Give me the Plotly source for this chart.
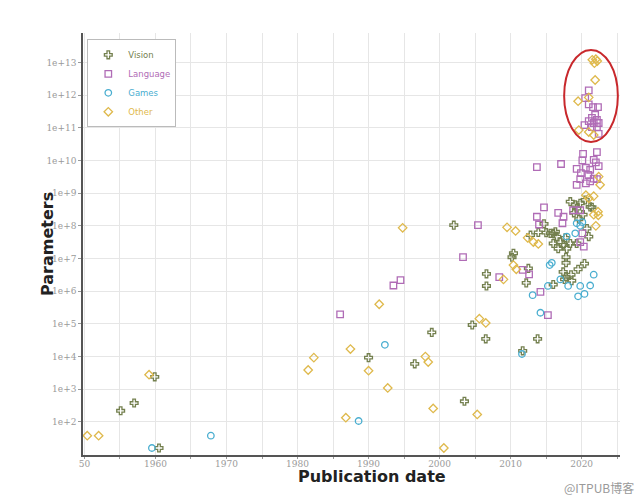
import plotly.graph_objects as go

# ---------------- data ----------------
vision_year = [1955.1, 1957.0, 1959.9, 1960.5, 1990.0, 1996.5, 1998.9, 2002.0, 2003.5, 2004.6,
               2006.5, 2006.6, 2006.6, 2010.2, 2010.4, 2012.2, 2012.5, 2011.7, 2013.8, 2012.8,
               2013.9, 2014.7, 2015.0, 2016.0, 2015.6, 2016.3, 2016.5, 2017.0, 2016.0, 2017.7,
               2017.45, 2018.4, 2016.7, 2017.9, 2020.75, 2021.0, 2019.3, 2021.45, 2017.8, 2017.8,
               2020.4, 2019.5, 2017.4, 2017.6, 2018.5, 2018.6, 2017.8, 2016.0, 2018.4, 2019.1,
               2019.8, 2020.5, 2021.2, 2019.3, 2018.9, 2019.6, 2020.2]
vision_params = [220, 380, 2400, 16, 9300, 6000, 55000, 1.05e8, 430, 9.3e4,
                 3.5e4, 3.4e6, 1.45e6, 1.1e7, 1.45e7, 1.8e6, 5e6, 1.5e4, 3.5e4, 5.2e7,
                 6.3e7, 1.15e8, 6.2e7, 5.9e7, 5.9e7, 6.6e7, 4.7e7, 3.2e7, 2.9e7, 4.3e7,
                 2.6e7, 2.9e7, 2e7, 2e7, 8.3e7, 4.7e7, 2.9e7, 3.7e8, 1.1e7, 7.4e6,
                 7e6, 4.7e6, 3.9e6, 2.3e6, 3.2e6, 2.1e6, 2.8e6, 1.6e6, 5.5e8, 4.4e8,
                 4.9e8, 6.2e8, 3.8e8, 3.4e8, 2.5e8, 1.6e8, 2.2e8]

language_year = [1986.0, 1993.5, 1994.5, 2003.3, 2005.4, 2008.4, 2011.7, 2012.6, 2014.2, 2015.25,
                 2014.7, 2013.7, 2014.0, 2016.7, 2017.45, 2017.3, 2020.1, 2020.3, 2019.8, 2018.8,
                 2019.8, 2013.7, 2017.1, 2020.2, 2022.15, 2019.3, 2020.1, 2021.7, 2022.0, 2019.9,
                 2020.6, 2021.2, 2022.4, 2019.8, 2020.95, 2021.7, 2019.3, 2020.6, 2021.2, 2022.15,
                 2021.0, 2020.5, 2021.0, 2021.6, 2022.3, 2021.9, 2021.45, 2022.15, 2021.0, 2021.7,
                 2022.4, 2020.4, 2021.45, 2022.15, 2022.4]
language_params = [1.95e5, 1.5e6, 2.2e6, 1.1e7, 1.05e8, 2.7e6, 4.5e6, 3.3e6, 9.5e5, 1.85e5,
                   3.7e8, 1.9e8, 1.1e8, 2.5e8, 1.9e8, 1.2e8, 5.9e7, 2.3e7, 3.2e7, 3e8,
                   3e8, 6.3e9, 7.8e9, 1.6e10, 1.8e10, 5.5e9, 1e10, 1.05e10, 8.7e9, 4.1e9,
                   6e9, 5.2e9, 6.7e9, 2.7e9, 3.6e9, 2.8e9, 1.8e9, 2e9, 2.3e9, 2.7e9,
                   1.4e12, 8.1e11, 5.2e11, 4.3e11, 4.3e11, 2.5e11, 2e11, 1.75e11, 1.6e11, 1.4e11,
                   1.4e11, 1.2e11, 1.05e11, 1.05e11, 6.5e10]

games_year = [1959.5, 1967.8, 1988.6, 1992.3, 2011.6, 2013.1, 2014.2, 2015.5, 2015.8, 2015.25,
              2017.0, 2018.1, 2019.8, 2021.2, 2021.7, 2019.5, 2020.4, 2017.9, 2019.3, 2020.1,
              2019.8, 2019.1]
games_params = [16, 38, 107, 23000, 1.2e4, 7.6e5, 2.2e5, 6.3e6, 7.4e6, 1.45e6,
                2.3e6, 1.45e6, 1.45e6, 1.5e6, 3.2e6, 7e5, 8.3e5, 4.7e7, 1.2e8, 1.3e8,
                1e8, 5.9e7]

other_year = [1950.4, 1952.0, 1959.1, 1981.5, 1982.3, 1986.8, 1987.45, 1990.0, 1991.5, 1992.7,
              1994.8, 1998.0, 1998.4, 1999.1, 2000.6, 2005.3, 2005.6, 2006.5, 2009.0, 2009.5,
              2010.7, 2012.4, 2013.2, 2013.9, 2010.4, 2010.8, 2021.7, 2021.5, 2022.0, 2021.8,
              2022.2, 2021.9, 2019.6, 2021.0, 2021.7, 2021.0, 2019.5, 2022.4, 2020.6, 2021.0,
              2021.7, 2022.6, 2022.3, 2022.35, 2022.0]
other_params = [38, 38, 2800, 3900, 9300, 135, 17000, 3700, 4e5, 1100,
                8.7e7, 1e4, 6800, 260, 16, 170, 1.45e5, 1.07e5, 2.3e6, 9e7,
                7e7, 4.3e7, 3.2e7, 2.8e7, 6.3e6, 4.7e6, 2.2e8, 1.2e13, 1.25e13, 9.5e12,
                1.1e13, 2.9e12, 8.5e10, 7.4e10, 6e10, 8.5e11, 6.5e11, 3.2e9, 8.7e8, 7e8,
                8.1e8, 1.8e9, 2.7e8, 2.1e8, 1e8]

x_tick_vals = [1950, 1960, 1970, 1980, 1990, 2000, 2010, 2020]
x_tick_text = ["50", "1960", "1970", "1980", "1990", "2000", "2010", "2020"]
y_tick_vals = [1e2, 1e3, 1e4, 1e5, 1e6, 1e7, 1e8, 1e9, 1e10, 1e11, 1e12, 1e13]
y_tick_text = ["1e+2", "1e+3", "1e+4", "1e+5", "1e+6", "1e+7", "1e+8", "1e+9",
               "1e+10", "1e+11", "1e+12", "1e+13"]

# ---------------- figure ----------------
series = [
    ("Vision", vision_year, vision_params, "cross-open", "#74804f"),
    ("Language", language_year, language_params, "square-open", "#b06cb6"),
    ("Games", games_year, games_params, "circle-open", "#4aaed0"),
    ("Other", other_year, other_params, "diamond-open", "#dfb94c"),
]

fig = go.Figure()
for name, xs, ys, sym, col in series:
    fig.add_trace(go.Scatter(
        x=xs, y=ys, mode="markers",
        name=f'<span style="color:{col}">{name}</span>',
        marker=dict(symbol=sym, size=6.5, color=col, line=dict(width=1.3, color=col)),
    ))

grid = "#e6e6e6"
tickfont = dict(family="DejaVu Serif", size=9, color="#9a9a9a")
fig.update_layout(
    width=640, height=504,
    margin=dict(l=83, r=20, t=33, b=49, autoexpand=False),
    paper_bgcolor="white", plot_bgcolor="white",
    font=dict(family="DejaVu Sans", color="#444"),
    showlegend=True,
    legend=dict(x=0.008, y=0.985, xanchor="left", yanchor="top",
                bgcolor="white", bordercolor="#bbbbbb", borderwidth=1,
                font=dict(size=8.5, family="DejaVu Sans"),
                itemsizing="trace", itemwidth=30, tracegroupgap=0),
    xaxis=dict(range=[1949.8, 2025.4], tickmode="array", tickvals=x_tick_vals, ticktext=x_tick_text,
               showgrid=True, gridcolor=grid, gridwidth=1,
               minor=dict(dtick=5, tick0=1950, showgrid=True, gridcolor=grid, ticks="outside",
                          ticklen=2, tickcolor="#999"),
               ticks="outside", ticklen=2, tickcolor="#999", ticklabelstandoff=-3,
               showline=True, linecolor="#555", linewidth=1.5, zeroline=False,
               tickfont=tickfont),
    yaxis=dict(type="log", range=[0.99, 13.9], tickmode="array", tickvals=y_tick_vals, ticktext=y_tick_text,
               showgrid=True, gridcolor=grid, gridwidth=1,
               ticks="outside", ticklen=3, tickcolor="#999",
               showline=True, linecolor="#555", linewidth=1.5, zeroline=False,
               tickfont=tickfont),
    shapes=[dict(type="circle", xref="paper", yref="paper",
                 x0=0.896, x1=0.996, y0=0.742, y1=0.960,
                 line=dict(color="#c8282c", width=2))],
    annotations=[
        dict(text="<b>Parameters</b>", xref="paper", yref="paper", x=-0.067, y=0.50,
             xanchor="center", yanchor="middle",
             textangle=-90, showarrow=False, font=dict(size=16, color="#222", family="DejaVu Sans")),
        dict(text="<b>Publication date</b>", xref="paper", yref="paper", x=0.538, y=-0.052,
             xanchor="center", yanchor="middle", showarrow=False,
             font=dict(size=16, color="#222", family="DejaVu Sans")),
        dict(text="@ITPUB博客", xref="paper", yref="paper", x=1.03, y=-0.076,
             xanchor="right", yanchor="middle", showarrow=False,
             font=dict(size=12, color="#9a9a9a", family="Noto Sans CJK SC")),
    ],
)

fig.write_html("out.html")
